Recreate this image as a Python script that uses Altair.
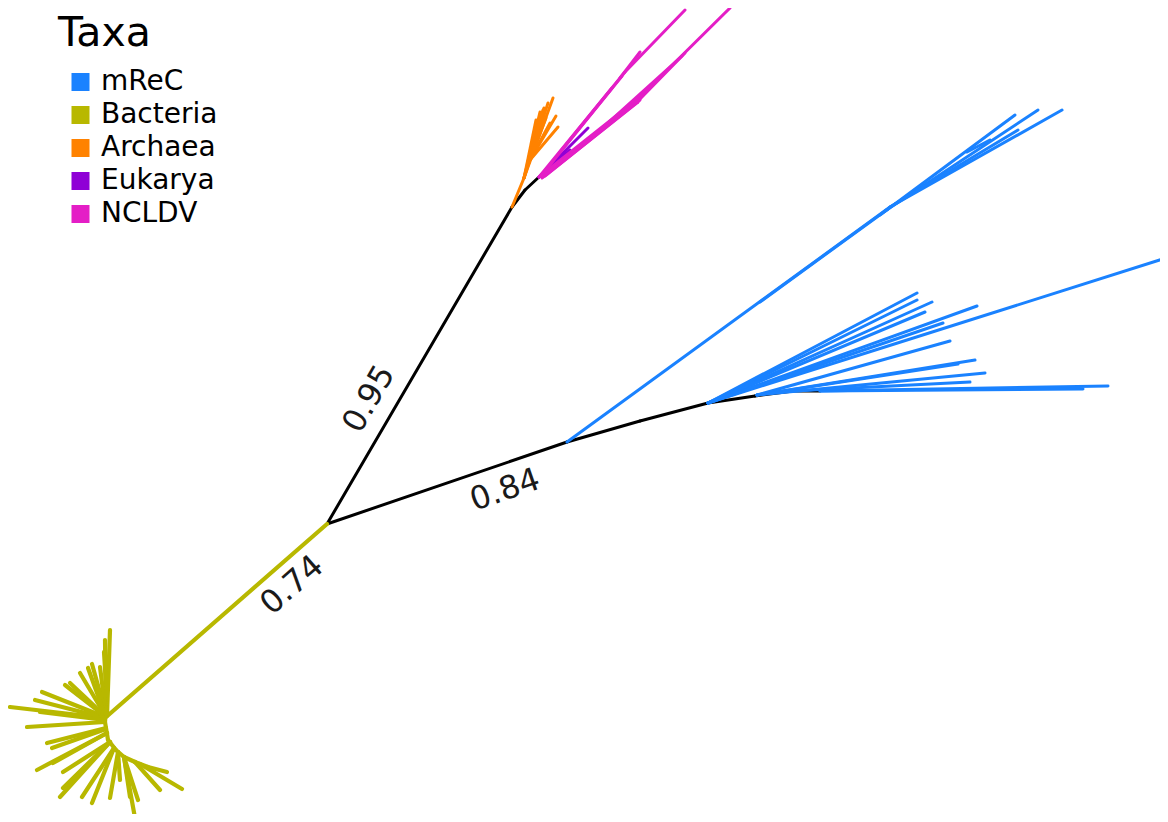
import altair as alt
import pandas as pd

# ---------------- data (reference-image coordinate space) ----------------
taxa = ["mReC", "Bacteria", "Archaea", "Eukarya", "NCLDV"]
taxa_colors = ["#1a82ff", "#b8b800", "#ff8200", "#8f00d6", "#e41ec6"]

# internal (uncoloured) branches: (x1, y1, x2, y2)
backbone_edges = [
    (327, 524, 512, 207),
    (327, 524, 567, 442),
    (567, 442, 640, 421),
    (640, 421, 708, 403),
    (708, 403, 755, 396),
    (755, 396, 793, 391),
    (793, 391, 820, 391),
    (512, 207, 525, 190),
    (525, 190, 539, 177),
]

bacteria_edges = [
    (327, 524, 105, 718),
    (106, 708, 105, 722), (105, 722, 108, 740), (108, 740, 116, 750),
    (116, 750, 124, 757), (124, 757, 135, 762), (135, 762, 148, 767),
    (107, 716, 110, 630), (106, 716, 105, 640), (107, 700, 104, 652),
    (106, 714, 100, 667), (106, 714, 92, 664), (105, 715, 88, 668),
    (105, 715, 80, 673), (105, 716, 65, 685), (105, 716, 70, 683),
    (105, 717, 42, 692), (105, 718, 35, 700), (105, 718, 10, 707),
    (105, 720, 40, 712), (105, 722, 27, 727), (106, 728, 47, 743),
    (106, 729, 52, 748), (107, 733, 37, 770), (107, 733, 53, 763),
    (110, 742, 63, 772), (110, 742, 60, 797), (110, 742, 63, 788),
    (114, 748, 82, 797), (114, 748, 92, 803), (118, 752, 110, 798),
    (118, 752, 120, 780), (124, 757, 135, 818), (124, 757, 130, 797),
    (124, 757, 138, 800), (135, 762, 160, 790), (148, 767, 167, 772),
    (140, 764, 182, 789),
]

archaea_edges = [
    (512, 207, 524, 178),
    (524, 178, 553, 98), (524, 178, 548, 103), (524, 178, 544, 108),
    (524, 178, 540, 112), (527, 168, 543, 110), (530, 160, 556, 116),
    (530, 160, 558, 127), (530, 160, 550, 123), (528, 165, 546, 118),
    (524, 178, 536, 120),
]

eukarya_edges = [
    (539, 177, 588, 128),
    (539, 177, 570, 150),
]

ncldv_edges = [
    (539, 177, 625, 72), (541, 176, 622, 76), (625, 72, 685, 10),
    (620, 78, 640, 52), (539, 177, 640, 97), (542, 178, 638, 102),
    (545, 176, 640, 100), (640, 97, 730, 8), (640, 99, 685, 53),
    (600, 130, 682, 56), (560, 152, 612, 88),
]

mrec_edges = [
    (567, 442, 890, 207), (760, 302, 888, 209), (880, 215, 1015, 115),
    (885, 211, 1038, 110), (890, 207, 1062, 110), (890, 207, 1018, 130),
    (967, 152, 990, 140),
    (708, 403, 917, 293), (708, 403, 917, 300), (708, 403, 932, 302),
    (708, 403, 925, 312), (708, 403, 977, 306), (708, 403, 1166, 258),
    (708, 403, 943, 323), (757, 395, 950, 341), (757, 395, 975, 360),
    (757, 395, 958, 364), (757, 395, 985, 373), (793, 391, 970, 382),
    (820, 391, 1108, 386), (820, 391, 1083, 389),
]

# support values on internal branches
support_text = ["0.95", "0.84", "0.74"]
support_x = [369, 505, 292]
support_y = [399, 490, 585]
support_angle = [300, 341, 319]

# ---------------- tables ----------------
def edges_df(edges, taxon):
    return pd.DataFrame(
        [{"x1": a, "y1": b, "x2": c, "y2": d, "taxon": taxon} for a, b, c, d in edges]
    )

colored = pd.concat(
    [
        edges_df(mrec_edges, "mReC"),
        edges_df(archaea_edges, "Archaea"),
        edges_df(eukarya_edges, "Eukarya"),
        edges_df(ncldv_edges, "NCLDV"),
    ],
    ignore_index=True,
)
bacteria = edges_df(bacteria_edges, "Bacteria")
black = edges_df(backbone_edges, "internal")
labels = pd.DataFrame(
    {"x": support_x, "y": support_y, "text": support_text, "angle": support_angle}
)

xs = alt.Scale(domain=[8, 1160], nice=False, zero=False)
ys = alt.Scale(domain=[8, 814], nice=False, zero=False, reverse=True)
cs = alt.Scale(domain=taxa, range=taxa_colors)

legend = alt.Legend(
    title="Taxa",
    orient="none",
    legendX=50,
    legendY=6,
    padding=0,
    titleFontSize=41,
    titleFontWeight="normal",
    titleFont="DejaVu Sans",
    titleColor="black",
    titlePadding=13,
    labelFontSize=28,
    labelFont="DejaVu Sans",
    labelColor="black",
    labelOffset=6.5,
    symbolType="square",
    symbolSize=81,
    symbolStrokeWidth=9,
    symbolOpacity=1,
    symbolOffset=8.5,
    clipHeight=28,
    rowPadding=5,
)

black_layer = alt.Chart(black).mark_rule(strokeWidth=3, strokeCap="round", color="black").encode(
    x=alt.X("x1:Q", scale=xs, axis=None),
    y=alt.Y("y1:Q", scale=ys, axis=None),
    x2="x2:Q",
    y2="y2:Q",
)

bact_layer = alt.Chart(bacteria).mark_rule(strokeWidth=4.2, strokeCap="round").encode(
    x=alt.X("x1:Q", scale=xs, axis=None),
    y=alt.Y("y1:Q", scale=ys, axis=None),
    x2="x2:Q",
    y2="y2:Q",
    color=alt.Color("taxon:N", scale=cs, legend=legend),
)

color_layer = alt.Chart(colored).mark_rule(strokeWidth=3, strokeCap="round").encode(
    x=alt.X("x1:Q", scale=xs, axis=None),
    y=alt.Y("y1:Q", scale=ys, axis=None),
    x2="x2:Q",
    y2="y2:Q",
    color=alt.Color("taxon:N", scale=cs, legend=legend),
)

text_layer = alt.Chart(labels).mark_text(
    font="DejaVu Sans", fontSize=32, color="#1a1a1a", align="center", baseline="middle"
).encode(
    x=alt.X("x:Q", scale=xs, axis=None),
    y=alt.Y("y:Q", scale=ys, axis=None),
    text="text:N",
    angle=alt.Angle("angle:Q", scale=None),
)

chart = (
    alt.layer(black_layer, color_layer, bact_layer, text_layer)
    .properties(width=1152, height=806, padding=0, autosize=alt.AutoSizeParams(type="none"))
    .configure_view(stroke=None)
)

chart.save("out.html", embed_options={"renderer": "svg", "actions": False})
